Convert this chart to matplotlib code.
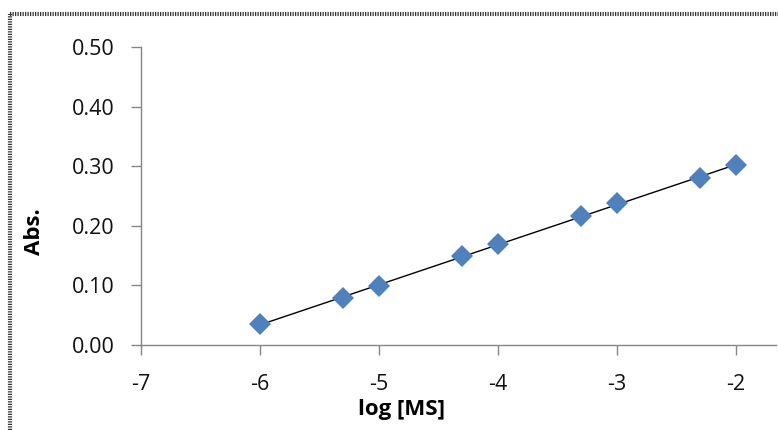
import numpy as np
import matplotlib
matplotlib.use("Agg")
import matplotlib.pyplot as plt
from matplotlib.lines import Line2D

# data
log_ms = [-6.0, -5.3, -5.0, -4.3, -4.0, -3.3, -3.0, -2.3, -2.0]
absorb = [0.035, 0.079, 0.099, 0.149, 0.169, 0.216, 0.238, 0.280, 0.302]
x_ticks = [-7, -6, -5, -4, -3, -2]
y_ticks = [0.0, 0.1, 0.2, 0.3, 0.4, 0.5]

plt.rcParams["font.family"] = ["Open Sans", "DejaVu Sans"]
AXIS = "#868686"
BLUE = "#4F81BD"

fig = plt.figure(figsize=(7.78, 4.30), dpi=100)
W, H = 778, 430
ax = fig.add_axes([141 / W, 85 / H, 635 / W, 298 / H])

# linear trendline (Excel-style)
slope, icpt = np.polyfit(log_ms, absorb, 1)
xs = np.array([min(log_ms), max(log_ms)])
ax.plot(xs, slope * xs + icpt, color="black", lw=1.0, zorder=2)
ax.plot(log_ms, absorb, linestyle="none", marker="D", markersize=11,
        color=BLUE, markeredgewidth=0, zorder=3, clip_on=False)

ax.set_xlim(-7, -1.66)
ax.set_ylim(0, 0.5)
ax.set_xticks(x_ticks)
ax.set_xticklabels([str(t) for t in x_ticks])
ax.set_yticks(y_ticks)
ax.set_yticklabels([f"{t:.2f}" for t in y_ticks])

for s in ("top", "right"):
    ax.spines[s].set_visible(False)
for s in ("left", "bottom"):
    ax.spines[s].set_color(AXIS)
    ax.spines[s].set_linewidth(1.0)
ax.tick_params(axis="both", direction="out", length=7, width=1.0, color=AXIS,
               labelsize=15.5, labelcolor="#111111")
ax.tick_params(axis="x", pad=14)
ax.tick_params(axis="y", pad=12)

fig.text(401 / W, 1 - 409 / H, "log [MS]", ha="center", va="center",
         fontsize=16, fontweight="bold")
fig.text(34 / W, 1 - 232 / H, "Abs.", ha="center", va="center",
         rotation=90, fontsize=16, fontweight="bold")

# dotted chart-area border (left and top edges visible in crop)
dots = (0, (0.3, 0.3))
fig.add_artist(Line2D([9.5 / W, 9.5 / W], [0, 1 - 13.5 / H], transform=fig.transFigure,
                      color="#333333", lw=3.0, linestyle=dots))
fig.add_artist(Line2D([9.5 / W, 1], [1 - 13.5 / H, 1 - 13.5 / H], transform=fig.transFigure,
                      color="#333333", lw=3.0, linestyle=dots))

fig.savefig("out.png", dpi=100)
